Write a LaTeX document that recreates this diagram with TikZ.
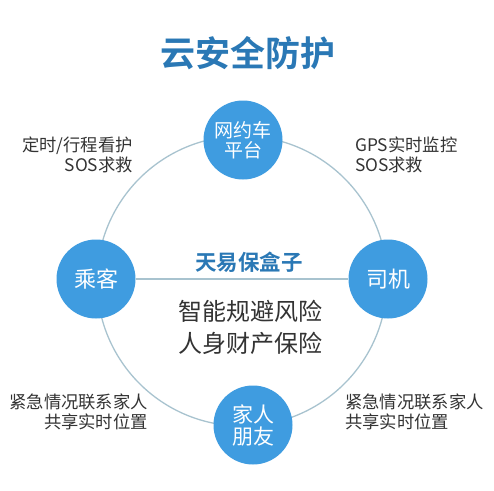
\documentclass[tikz,border=0pt]{standalone}
\usepackage{fontspec}
\setmainfont{Noto Sans CJK SC}
\newfontfamily\cjkbold{Noto Sans CJK SC Bold}
\definecolor{circblue}{HTML}{3F9CE0}
\definecolor{titleblue}{HTML}{2A78B5}
\definecolor{ringcol}{HTML}{A8C3CF}
\definecolor{txt}{HTML}{333333}
\begin{document}
\begin{tikzpicture}[x=1pt,y=-1pt,
  role/.style={circle,fill=circblue,minimum size=79pt,inner sep=0pt,text=white,align=center},
  lbl/.style={text=txt,font=\fontsize{17.3}{20}\selectfont,inner sep=0pt},
  ring/.style={draw=ringcol,line width=1.3pt}]
\useasboundingbox[fill=white] (0,0) rectangle (494,490);
\coordinate (c) at (242,281);
\draw[ring] (c) circle[radius=145];
\node[role,font=\fontsize{19}{20}\selectfont] (plat) at (243,140) {网约车\\平台};
\node[role,font=\fontsize{22}{24}\selectfont] (pass) at (96,279) {乘客};
\node[role,font=\fontsize{22}{24}\selectfont] (drv) at (388,279) {司机};
\node[role,font=\fontsize{21}{22}\selectfont] (fam) at (253,425) {家人\\朋友};
\draw[ring] (pass.east) -- (drv.west);
\node[text=titleblue,font=\cjkbold\fontsize{35}{40}\selectfont] (title) at (248,53) {云安全防护};
\node[text=titleblue,font=\cjkbold\fontsize{21.5}{24}\selectfont] (box) at (249,262) {天易保盒子};
\node[text=txt,font=\fontsize{24}{32}\selectfont,align=center] (mid) at (250,327) {智能规避风险\\人身财产保险};
\node[lbl,align=right,anchor=east] (tl) at (133,155) {定时/行程看护\\SOS求救};
\node[lbl,align=left,anchor=west] (tr) at (355,155) {GPS实时监控\\SOS求救};
\node[lbl,align=right,anchor=east] (bl) at (148,412) {紧急情况联系家人\\共享实时位置};
\node[lbl,align=left,anchor=west] (br) at (345,412) {紧急情况联系家人\\共享实时位置};
\end{tikzpicture}
\end{document}
